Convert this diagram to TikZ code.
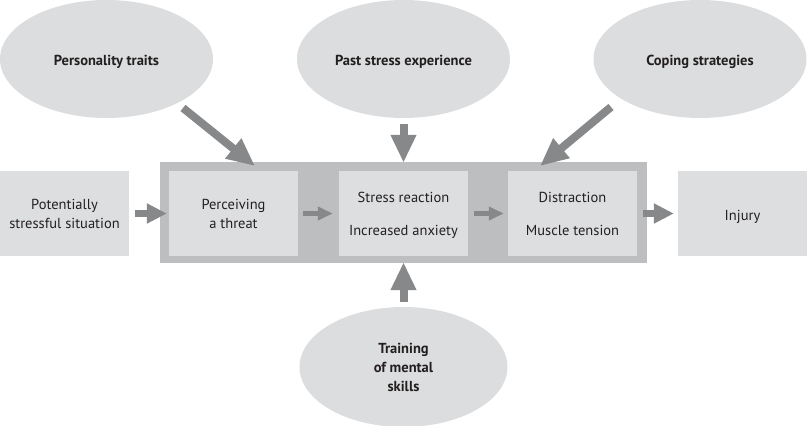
\documentclass[tikz,border=0pt]{standalone}
\usepackage{fontspec}
\setmainfont{PT Sans}
\usetikzlibrary{shapes.geometric,arrows.meta}
\definecolor{ellfill}{HTML}{DCDDDE}
\definecolor{boxfill}{HTML}{DDDEDF}
\definecolor{framefill}{HTML}{BDBEC0}
\definecolor{arrowcol}{HTML}{87888A}
\definecolor{txt}{HTML}{231F20}
\begin{document}
\begin{tikzpicture}[x=1pt,y=-1pt,
 cloud/.style={ellipse, fill=ellfill, inner sep=0pt, minimum width=213pt, minimum height=118pt, font=\bfseries\fontsize{14.5}{19}\selectfont, text=txt, align=center},
 stepbox/.style={rectangle, fill=boxfill, minimum width=129pt, minimum height=85pt, inner sep=0pt, font=\fontsize{14.5}{19}\selectfont, text=txt, align=center},
 oneline/.style={text height=16.5pt},
 multiline/.style={text depth=-2.5pt},
 bigarrow/.style={draw=arrowcol, line width=8pt, -{Triangle[length=28pt,width=24pt]}},
 midarrow/.style={draw=arrowcol, line width=6.5pt, -{Triangle[length=20pt,width=19pt]}},
 smallarrow/.style={draw=arrowcol, line width=4.5pt, -{Triangle[length=15pt,width=13pt]}},
]
\useasboundingbox (0,0) rectangle (807,426);
% ellipses
\node[cloud, oneline] (pers) at (106.5,59) {Personality traits};
\node[cloud, oneline] (past) at (403.5,59) {Past stress experience};
\node[cloud, oneline] (cope) at (700,59) {Coping strategies};
\node[cloud, minimum width=208pt, minimum height=120pt] (train) at (403.5,367) {Training\\of mental\\skills};
% frame and boxes
\node[fill=framefill, minimum width=487pt, minimum height=101pt, inner sep=0pt] (frame) at (403.5,212.5) {};
\node[stepbox, multiline] (pot) at (64.5,213.5) {Potentially\\stressful situation};
\node[stepbox, multiline] (perc) at (233.5,213.5) {Perceiving\\a threat};
\node[stepbox, multiline] (stress) at (403.5,213.5) {Stress reaction\\[14pt]Increased anxiety};
\node[stepbox, multiline] (dist) at (572.5,213.5) {Distraction\\[14pt]Muscle tension};
\node[stepbox, oneline] (inj) at (742.5,213.5) {Injury};
% arrow end points
\coordinate (persS) at (183,108);
\coordinate (persT) at (255,166);
\coordinate (copeS) at (611,107);
\coordinate (copeT) at (540,166);
% connectors
\draw[bigarrow] (persS) -- (persT);
\draw[bigarrow] (copeS) -- (copeT);
\draw[bigarrow, shorten <=6pt, shorten >=-1pt] (past.south) -- (frame.north);
\draw[bigarrow, shorten <=5pt, shorten >=-1pt] (train.north) -- (frame.south);
\draw[midarrow, shorten <=6pt, shorten >=2pt] (pot.east) -- (perc.west);
\draw[smallarrow, shorten <=5pt, shorten >=6pt] (perc.east) -- (stress.west);
\draw[smallarrow, shorten <=6pt, shorten >=4pt] (stress.east) -- (dist.west);
\draw[midarrow, shorten <=6pt, shorten >=4pt] (dist.east) -- (inj.west);
\end{tikzpicture}
\end{document}
